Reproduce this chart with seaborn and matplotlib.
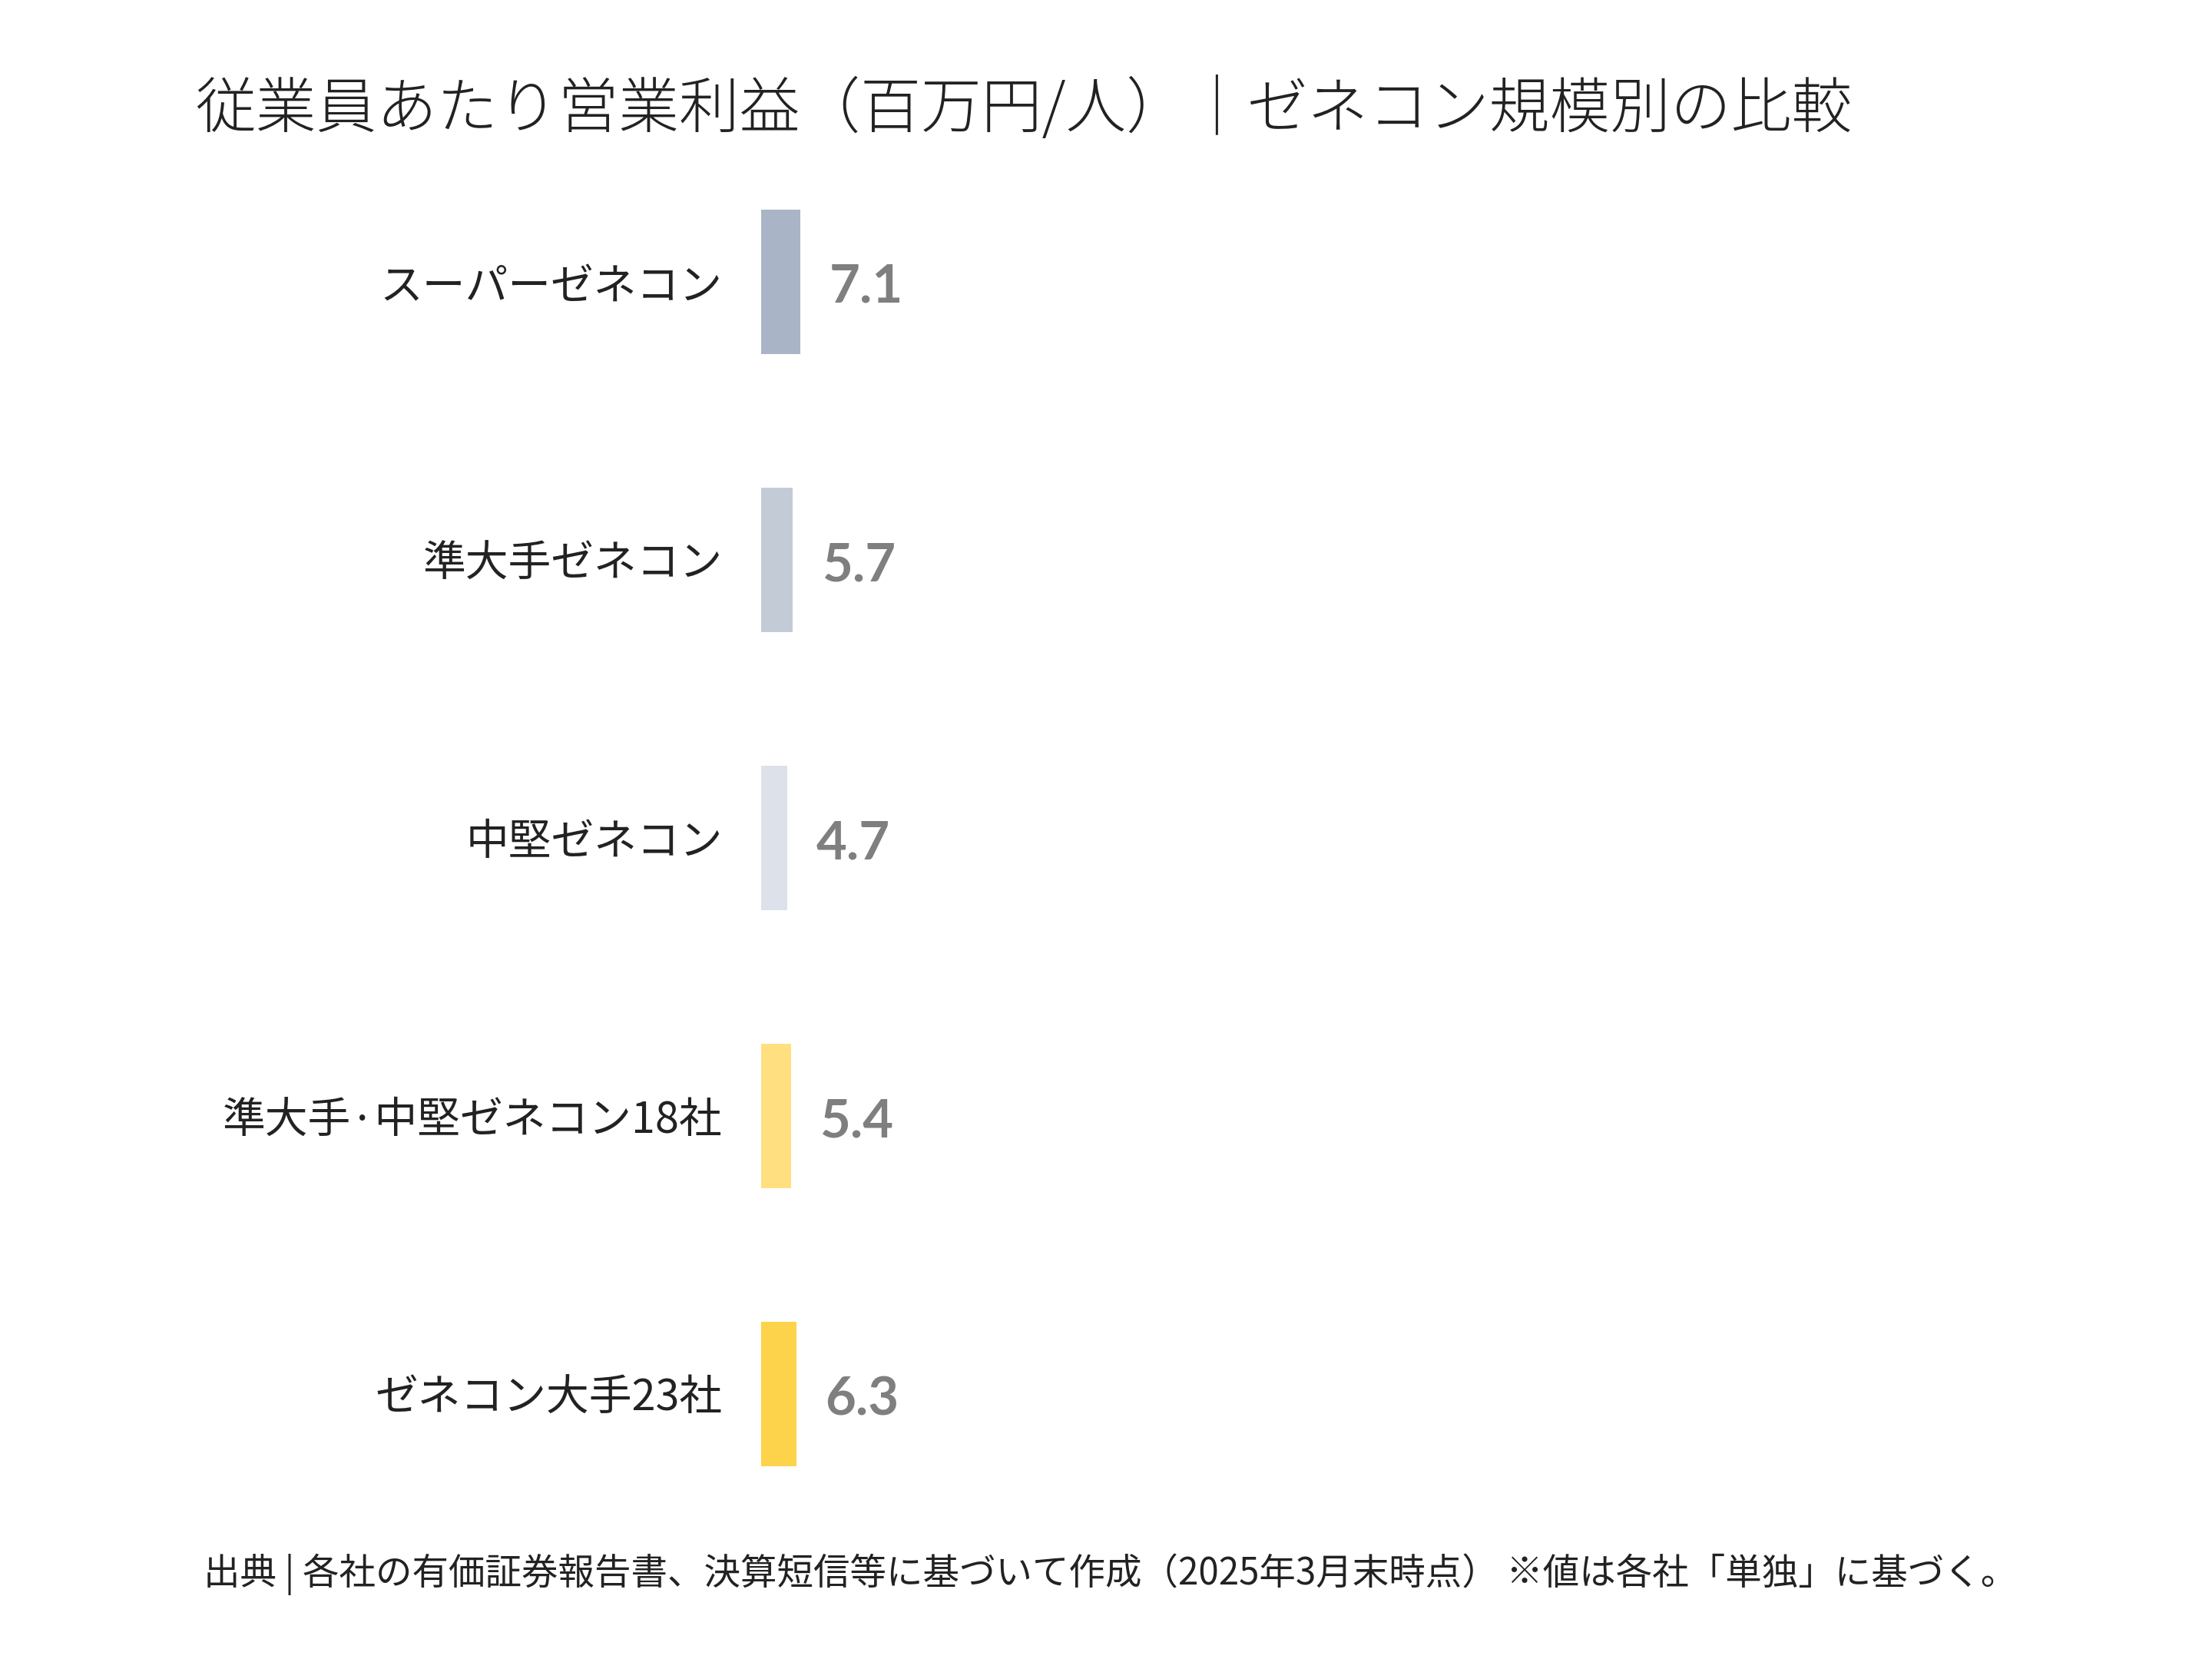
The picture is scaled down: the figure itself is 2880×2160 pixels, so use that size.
import matplotlib
matplotlib.use("Agg")
import matplotlib.pyplot as plt
import seaborn as sns
import pandas as pd

# data
categories = [
    "スーパーゼネコン",
    "準大手ゼネコン",
    "中堅ゼネコン",
    "準大手·中堅ゼネコン18社",
    "ゼネコン大手23社",
]
values = [7.1, 5.7, 4.7, 5.4, 6.3]
bar_colors = ["#a9b5c6", "#c3cbd7", "#dde1ea", "#ffdf80", "#fdd34b"]

title = "従業員あたり営業利益（百万円/人）｜ゼネコン規模別の比較"
footer = "出典 | 各社の有価証券報告書、決算短信等に基づいて作成（2025年3月末時点） ※値は各社「単独」に基づく。"

sns.set_theme(style="white")
plt.rcParams["font.family"] = ["Noto Sans CJK JP", "DejaVu Sans"]

fig = plt.figure(figsize=(16, 12), dpi=180)
ax = fig.add_axes([0.344, 0.0759, 0.606, 0.838])

df = pd.DataFrame({"category": categories, "value": values})
sns.barplot(
    data=df, x="value", y="category", hue="category",
    palette=bar_colors, legend=False, width=0.52, saturation=1,
    linewidth=0, orient="h", ax=ax,
)

ax.set_xlim(0, 240)
ax.set_ylim(4.5, -0.5)
sns.despine(ax=ax, left=True, bottom=True)
ax.set_xticks([])
ax.set_xlabel("")
ax.set_ylabel("")
ax.tick_params(axis="y", length=0, pad=20, labelsize=22.3, labelcolor="#222222")

# value labels next to each bar
for i, v in enumerate(values):
    ax.annotate(
        f"{v:.1f}", xy=(v, i), xytext=(15, -3), textcoords="offset points",
        ha="left", va="center", fontsize=27.5, fontweight="bold",
        color="#7f7f7f", family=["Lato", "DejaVu Sans"],
    )

fig.text(254 / 2880, 1 - 143 / 2160, title, fontsize=31.5, fontweight="light",
         ha="left", va="center", color="#222222")
fig.text(265 / 2880, 1 - 2050 / 2160, footer, fontsize=19,
         ha="left", va="center", color="#222222")

fig.savefig("out.png", dpi=180)
